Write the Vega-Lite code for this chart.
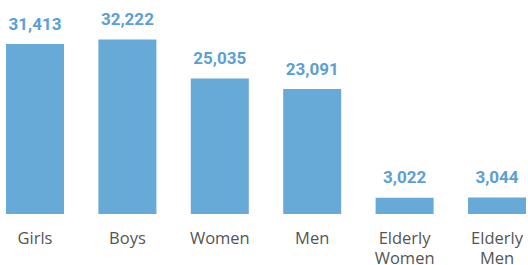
{
  "$schema": "https://vega.github.io/schema/vega-lite/v6.json",
  "autosize": "none",
  "width": 520,
  "height": 214,
  "padding": {"left": 6, "top": 0, "right": 2, "bottom": 51},
  "background": "white",
  "config": {"view": {"stroke": null}},
  "data": {
    "values": [
      {"group": "Girls", "value": 31413},
      {"group": "Boys", "value": 32222},
      {"group": "Women", "value": 25035},
      {"group": "Men", "value": 23091},
      {"group": "Elderly Women", "value": 3022},
      {"group": "Elderly Men", "value": 3044}
    ]
  },
  "encoding": {
    "x": {
      "field": "group",
      "type": "nominal",
      "sort": null,
      "scale": {"paddingInner": 0.3723, "paddingOuter": 0},
      "axis": {
        "title": null,
        "domain": false,
        "ticks": false,
        "grid": false,
        "labelAngle": 0,
        "labelPadding": 16,
        "labelFont": "Open Sans",
        "labelFontSize": 16.5,
        "labelColor": "#555555",
        "labelLineHeight": 20,
        "labelExpr": "indexof(datum.label, 'Elderly') == 0 ? split(datum.label, ' ') : datum.label"
      }
    },
    "y": {
      "field": "value",
      "type": "quantitative",
      "scale": {"domain": [0, 39544], "nice": false, "zero": true},
      "axis": null
    }
  },
  "layer": [
    {"mark": {"type": "bar", "color": "#67a9d7"}},
    {
      "mark": {
        "type": "text",
        "baseline": "alphabetic",
        "dy": -14.5,
        "font": "Roboto",
        "fontWeight": "bold",
        "fontSize": 17,
        "color": "#5b9fd3"
      },
      "encoding": {"text": {"field": "value", "type": "quantitative", "format": ","}}
    }
  ]
}
